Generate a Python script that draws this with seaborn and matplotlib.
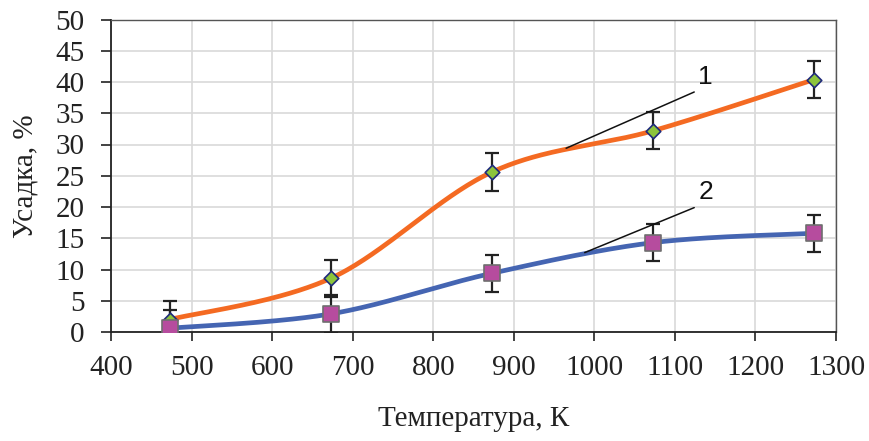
import numpy as np
import pandas as pd
import matplotlib
matplotlib.use("Agg")
import matplotlib.pyplot as plt
import seaborn as sns

# ---- data ----
temperature = [473, 673, 873, 1073, 1273]
shrink_1 = [2.0, 8.6, 25.6, 32.2, 40.4]
shrink_2 = [0.6, 2.9, 9.4, 14.3, 15.8]
err_1 = [3, 3, 3, 3, 3]
err_2 = [3, 3, 3, 3, 3]
x_ticks = [400, 500, 600, 700, 800, 900, 1000, 1100, 1200, 1300]
y_ticks = [0, 5, 10, 15, 20, 25, 30, 35, 40, 45, 50]
x_label = "Температура, К"
y_label = "Усадка, %"
curve_labels = ["1", "2"]


def excel_smooth(xs, ys, n=60):
    """Excel-like smoothed line (Bezier with Catmull-Rom control points)."""
    P = np.column_stack([xs, ys]).astype(float)
    P = np.vstack([P[0], P, P[-1]])
    out = []
    t = np.linspace(0, 1, n)[:, None]
    for i in range(1, len(P) - 2):
        p0, p1, p2, p3 = P[i - 1], P[i], P[i + 1], P[i + 2]
        c1 = p1 + (p2 - p0) / 6.0
        c2 = p2 - (p3 - p1) / 6.0
        seg = ((1 - t) ** 3) * p1 + 3 * ((1 - t) ** 2) * t * c1 + 3 * (1 - t) * t ** 2 * c2 + t ** 3 * p2
        out.append(seg if i == 1 else seg[1:])
    arr = np.vstack(out)
    return arr[:, 0], arr[:, 1]


sns.set_theme(style="white")
plt.rcParams["font.family"] = ["Liberation Serif", "DejaVu Serif"]

fig = plt.figure(figsize=(8.69, 4.41), dpi=100)
ax = fig.add_axes([111 / 869, 1 - 332 / 441, (836 - 111) / 869, (332 - 19.5) / 441])

orange = "#F46A22"
blue = "#4565B2"

sx1, sy1 = excel_smooth(temperature, shrink_1)
sx2, sy2 = excel_smooth(temperature, shrink_2)
df1 = pd.DataFrame({"x": sx1, "y": sy1})
df2 = pd.DataFrame({"x": sx2, "y": sy2})
sns.lineplot(data=df1, x="x", y="y", ax=ax, color=orange, lw=3.4, sort=False, estimator=None, zorder=3)
sns.lineplot(data=df2, x="x", y="y", ax=ax, color=blue, lw=3.4, sort=False, estimator=None, zorder=3)

ax.errorbar(temperature, shrink_1, yerr=err_1, fmt="none", ecolor="#222222", elinewidth=1.6,
            capsize=5, capthick=1.6, zorder=4)
ax.errorbar(temperature, shrink_2, yerr=err_2, fmt="none", ecolor="#222222", elinewidth=1.6,
            capsize=5, capthick=1.6, zorder=4)

sns.scatterplot(x=temperature, y=shrink_1, ax=ax, marker="D", s=55, color="#8CC43C",
                edgecolor="#1F2A7A", linewidth=1.2, zorder=5)
sns.scatterplot(x=temperature, y=shrink_2, ax=ax, marker="s", s=120, color="#B64C9E",
                edgecolor="#6E6E6E", linewidth=1.2, zorder=5)

# leader lines and labels
ax.plot([965, 1124], [29.4, 38.4], color="#111111", lw=1.1, zorder=6)
ax.plot([988, 1124], [12.7, 19.9], color="#111111", lw=1.1, zorder=6)
ax.text(1138, 40.8, curve_labels[0], fontsize=19, family=["Liberation Sans", "DejaVu Sans"],
        ha="center", va="center", color="#111111")
ax.text(1138, 22.4, curve_labels[1], fontsize=19, family=["Liberation Sans", "DejaVu Sans"],
        ha="center", va="center", color="#111111")

ax.set_xlim(400, 1300)
ax.set_ylim(0, 50)
ax.set_xticks(x_ticks)
ax.set_yticks(y_ticks)
ax.grid(True, color="#D9D9D9", lw=1.2)
ax.set_axisbelow(True)
for side in ["left", "bottom"]:
    ax.spines[side].set_color("#222222")
    ax.spines[side].set_linewidth(1.3)
for side in ["top", "right"]:
    ax.spines[side].set_color("#555555")
    ax.spines[side].set_linewidth(1.0)
    ax.spines[side].set_visible(True)
ax.tick_params(axis="x", direction="out", length=6.5, width=1.2, color="#222222",
               labelsize=21, pad=10, labelcolor="#222222", bottom=True)
ax.tick_params(axis="y", direction="out", length=7, width=1.2, color="#222222",
               labelsize=21, pad=12, labelcolor="#222222", left=True)
ax.set_xlabel(x_label, fontsize=21, color="#222222", labelpad=18)
ax.set_ylabel(y_label, fontsize=21, color="#222222", labelpad=12)

fig.savefig("out.png", dpi=100)
